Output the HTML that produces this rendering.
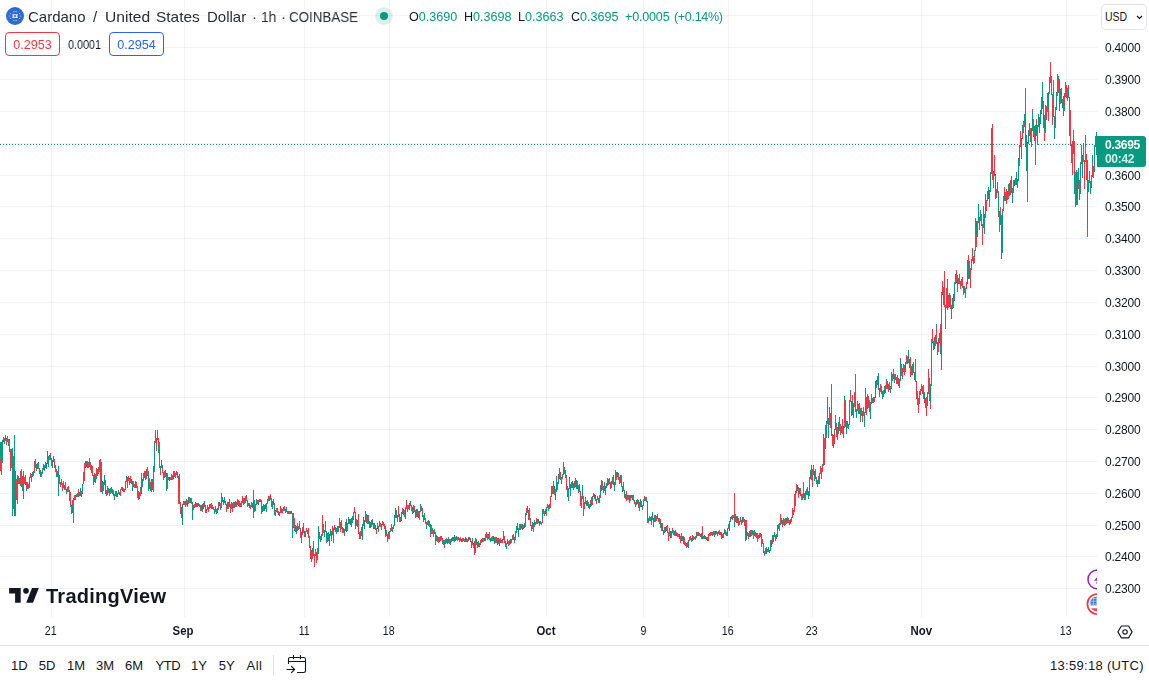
<!DOCTYPE html>
<html><head><meta charset="utf-8">
<style>
*{margin:0;padding:0;box-sizing:border-box}
html,body{width:1149px;height:684px;overflow:hidden;background:#fff;font-family:"Liberation Sans",sans-serif;color:#131722}
#chart{position:absolute;left:0;top:0}
.tw,.ohlc,.box,.pl,.tl,#cur,.ga{will-change:transform}
.abs{position:absolute;white-space:nowrap}
.tw{position:absolute;white-space:nowrap;top:8px;font-size:15px;color:#2a2e39;line-height:18px;transform-origin:0 0}
.ohlc{position:absolute;white-space:nowrap;top:9px;font-size:12.6px;line-height:16px;color:#089981}
.ohlc b{font-weight:normal;color:#131722}
.box{position:absolute;top:32px;height:24px;border:1px solid;border-radius:4px;background:#fff;font-size:12.6px;line-height:24px;text-align:center}
#pax{position:absolute;left:1097px;top:0;width:52px;height:617px;background:#fff}
.pl{position:absolute;left:8px;font-size:12px;line-height:15px;color:#131722;letter-spacing:-0.22px}
#usd{position:absolute;left:1101px;top:4px;width:46px;height:26px;border:1px solid #e0e3eb;border-radius:5px;font-size:12.5px;line-height:24px;padding-left:3px}
#usd span{display:inline-block;transform:scaleX(0.84);transform-origin:0 0}
#cur{position:absolute;left:1097px;top:136px;width:49px;height:31px;background:#089981;border-radius:0 3px 3px 0;color:#fff;font-size:12px;line-height:14px;padding:2px 0 0 8px;letter-spacing:-0.3px}
.tl{position:absolute;top:623px;width:60px;text-align:center;font-size:12px;line-height:16px;color:#131722}
.tl.b{font-weight:bold}
.tl span{display:inline-block;transform:scaleX(0.88)}
.tl.b span{transform:scaleX(0.95)}
#bline{position:absolute;left:0;top:645px;width:1149px;height:1px;background:#e0e3eb}
.tb{position:absolute;top:657.5px;font-size:13px;line-height:16px;color:#131722}
</style></head><body>
<svg id="chart" width="1097" height="617" viewBox="0 0 1097 617" shape-rendering="crispEdges">
<path d="M0 15.5H1097M0 47.5H1097M0 79.5H1097M0 111.5H1097M0 143.5H1097M0 175.5H1097M0 206.5H1097M0 238.5H1097M0 270.5H1097M0 302.5H1097M0 334.5H1097M0 366.5H1097M0 397.5H1097M0 429.5H1097M0 461.5H1097M0 493.5H1097M0 525.5H1097M0 556.5H1097M0 588.5H1097" stroke="rgba(42,46,57,0.06)" stroke-width="1" fill="none"/><path d="M51.5 0V617M184.5 0V617M304.5 0V617M389.5 0V617M546.5 0V617M643.5 0V617M728.5 0V617M812.5 0V617M921.5 0V617M1066.5 0V617" stroke="rgba(42,46,57,0.06)" stroke-width="1" fill="none"/>
<path d="M0 144.5H1097" stroke="#089981" stroke-width="1" stroke-dasharray="1 2" fill="none"/>
<path d="M0.5 442V459M1.5 442V448M2.5 440V463M3.5 441V442M4.5 440V444M5.5 437V441M6.5 438V440M8.5 441V446M9.5 439V441M9.5 441V452M12.5 448V516M14.5 435V516M15.5 471V516M17.5 475V504M18.5 476V481M19.5 478V479M22.5 484V491M23.5 471V499M25.5 475V481M25.5 481V485M26.5 490V491M27.5 482V489M28.5 487V489M29.5 477V485M29.5 485V488M30.5 473V474M31.5 476V482M32.5 472V477M33.5 471V476M34.5 461V462M36.5 464V471M37.5 463V466M38.5 462V467M39.5 468V471M40.5 470V473M40.5 473V477M41.5 474V477M42.5 468V473M42.5 473V474M43.5 464V469M44.5 465V470M45.5 462V468M46.5 463V466M46.5 466V469M47.5 451V464M48.5 456V467M49.5 455V456M50.5 456V460M52.5 460V468M53.5 456V462M56.5 474V477M58.5 466V496M62.5 489V491M64.5 489V490M66.5 489V492M66.5 492V494M69.5 490V492M70.5 505V507M71.5 505V514M72.5 505V513M73.5 517V523M75.5 495V500M76.5 494V497M79.5 492V496M80.5 488V490M80.5 490V496M81.5 494V497M82.5 484V491M83.5 472V484M85.5 461V467M86.5 461V466M87.5 461V468M89.5 461V467M90.5 462V463M94.5 478V482M95.5 474V483M96.5 475V479M97.5 469V476M98.5 467V470M100.5 459V460M101.5 468V492M102.5 481V494M103.5 482V487M104.5 475V485M105.5 480V494M106.5 493V496M107.5 486V495M108.5 488V491M109.5 491V496M110.5 488V493M112.5 490V494M114.5 494V498M115.5 492V496M116.5 491V497M118.5 490V494M125.5 481V489M125.5 489V490M126.5 476V479M127.5 477V488M129.5 478V479M131.5 479V484M132.5 481V491M135.5 481V488M136.5 487V488M139.5 492V499M140.5 487V491M141.5 473V494M142.5 479V485M143.5 473V475M144.5 475V478M145.5 471V480M148.5 471V491M149.5 478V479M150.5 484V491M151.5 479V492M152.5 479V481M153.5 466V467M153.5 467V492M154.5 441V472M155.5 442V443M157.5 438V440M158.5 446V453M160.5 466V471M161.5 460V468M162.5 465V468M166.5 473V491M168.5 477V480M169.5 477V481M172.5 475V477M173.5 471V472M175.5 475V478M178.5 476V477M179.5 474V493M180.5 513V514M181.5 509V518M182.5 504V525M183.5 501V505M185.5 501V504M186.5 499V504M187.5 505V507M188.5 497V499M189.5 497V503M190.5 498V503M192.5 502V520M193.5 508V510M195.5 502V506M197.5 503V507M198.5 503V506M200.5 509V511M201.5 505V509M202.5 504V509M203.5 503V509M204.5 501V504M205.5 505V513M207.5 505V509M209.5 504V509M211.5 503V505M213.5 507V510M214.5 509V514M215.5 506V511M216.5 509V510M216.5 510V514M217.5 508V511M218.5 502V504M219.5 502V506M220.5 505V510M221.5 493V494M222.5 497V498M222.5 498V502M223.5 504V505M224.5 497V503M226.5 504V506M227.5 502V505M228.5 505V509M229.5 499V505M229.5 505V507M233.5 502V508M234.5 502V508M235.5 506V507M237.5 499V505M238.5 505V506M239.5 501V507M241.5 501V507M243.5 504V505M244.5 502V504M245.5 496V501M246.5 500V501M247.5 506V507M248.5 503V506M249.5 506V508M251.5 502V507M252.5 504V508M253.5 505V518M254.5 500V512M255.5 504V505M256.5 499V505M257.5 500V504M258.5 503V505M261.5 500V510M262.5 506V512M264.5 505V511M265.5 504V509M266.5 503V512M268.5 499V501M269.5 500V501M270.5 497V500M271.5 503V507M272.5 501V509M273.5 499V505M274.5 505V515M275.5 510V516M279.5 512V516M281.5 508V513M284.5 509V511M285.5 509V513M286.5 508V512M287.5 511V514M289.5 511V514M290.5 511V514M291.5 511V514M292.5 516V538M293.5 527V528M294.5 529V531M295.5 525V530M296.5 526V527M296.5 527V534M299.5 521V529M300.5 528V530M301.5 532V543M303.5 523V532M304.5 531V535M305.5 536V537M309.5 540V548M311.5 553V562M312.5 548V552M313.5 541V556M317.5 548V560M318.5 526V554M319.5 532V534M319.5 534V539M320.5 536V542M321.5 534V538M324.5 530V533M324.5 533V537M325.5 522V532M326.5 531V542M327.5 533V534M327.5 534V542M328.5 532V541M329.5 537V546M330.5 529V536M331.5 531V538M332.5 533V535M333.5 533V543M335.5 529V532M336.5 528V534M338.5 526V532M339.5 518V528M341.5 524V529M342.5 527V528M343.5 528V532M344.5 529V534M346.5 522V532M347.5 523V531M348.5 517V524M349.5 519V523M349.5 523V524M350.5 519V525M351.5 525V527M352.5 516V523M353.5 518V520M354.5 507V508M355.5 512V529M356.5 522V526M361.5 527V536M362.5 524V535M362.5 535V540M363.5 525V526M364.5 520V525M364.5 525V529M365.5 511V522M366.5 514V518M367.5 519V524M368.5 518V524M369.5 521V528M370.5 522V528M372.5 521V525M374.5 523V529M377.5 523V529M378.5 526V532M379.5 521V527M385.5 526V532M386.5 530V534M387.5 534V536M388.5 532V534M389.5 531V532M392.5 527V528M392.5 528V532M394.5 515V526M395.5 508V518M396.5 510V512M396.5 512V518M397.5 515V522M399.5 514V515M399.5 515V522M400.5 517V519M401.5 512V514M401.5 514V521M402.5 509V514M403.5 509V515M404.5 513V517M405.5 507V519M409.5 503V505M409.5 505V510M410.5 501V504M411.5 505V511M412.5 507V514M413.5 505V513M415.5 510V518M416.5 509V516M417.5 509V517M419.5 511V519M420.5 504V512M421.5 506V508M421.5 508V511M422.5 513V517M424.5 513V519M426.5 526V529M427.5 521V525M428.5 520V526M429.5 521V527M430.5 524V534M432.5 528V529M434.5 530V534M435.5 543V545M436.5 536V541M439.5 537V542M442.5 542V544M444.5 540V545M445.5 542V544M446.5 539V543M447.5 539V543M447.5 543V544M448.5 537V539M448.5 539V543M449.5 542V544M450.5 542V545M451.5 538V542M452.5 537V541M453.5 537V541M454.5 536V542M455.5 537V541M456.5 536V540M457.5 537V541M459.5 538V542M461.5 539V542M463.5 538V541M464.5 539V542M465.5 537V539M465.5 539V542M467.5 539V542M468.5 537V541M469.5 537V540M471.5 541V548M472.5 538V541M473.5 547V548M474.5 541V542M475.5 543V553M476.5 540V545M477.5 542V544M478.5 541V543M479.5 543V547M481.5 539V543M484.5 538V541M485.5 534V541M486.5 537V538M488.5 538V539M490.5 538V542M492.5 537V541M493.5 536V538M493.5 538V541M494.5 537V540M494.5 540V544M497.5 538V545M498.5 539V544M499.5 539V546M501.5 540V543M503.5 531V540M505.5 541V547M506.5 544V549M507.5 539V541M508.5 545V546M510.5 539V541M511.5 539V543M513.5 534V540M514.5 537V542M515.5 531V538M516.5 526V532M516.5 532V533M517.5 526V530M518.5 528V535M518.5 535V537M520.5 524V530M522.5 524V525M523.5 525V529M524.5 524V528M525.5 513V516M526.5 512V515M527.5 506V510M529.5 508V520M530.5 518V519M531.5 525V528M532.5 522V526M534.5 520V527M535.5 522V525M537.5 519V524M538.5 519V523M539.5 521V526M540.5 521V524M542.5 509V520M543.5 509V510M544.5 514V516M545.5 509V514M546.5 507V513M548.5 508V511M549.5 504V506M551.5 489V497M554.5 486V493M555.5 489V500M556.5 480V492M558.5 474V484M559.5 475V479M560.5 477V480M561.5 477V479M562.5 474V477M563.5 462V468M564.5 470V474M565.5 477V478M566.5 475V477M568.5 488V501M569.5 477V486M570.5 484V492M570.5 492V496M571.5 485V488M572.5 481V487M573.5 483V490M574.5 485V488M575.5 478V479M575.5 479V487M576.5 480V489M577.5 487V489M578.5 485V491M579.5 485V492M580.5 491V492M582.5 485V497M585.5 502V504M586.5 501V505M588.5 502V506M588.5 506V508M589.5 506V509M590.5 504V507M592.5 496V502M593.5 493V497M594.5 498V499M595.5 500V501M597.5 496V500M598.5 498V499M598.5 499V503M599.5 495V503M600.5 485V496M601.5 480V483M602.5 489V490M603.5 492V493M604.5 482V491M605.5 486V495M606.5 483V488M607.5 480V486M608.5 479V484M611.5 481V485M611.5 485V488M612.5 477V481M613.5 478V485M614.5 482V491M615.5 470V485M616.5 472V475M617.5 473V477M620.5 475V479M622.5 486V489M622.5 489V492M624.5 490V498M628.5 495V498M629.5 495V503M630.5 500V501M631.5 495V498M632.5 495V500M633.5 495V496M636.5 500V503M636.5 503V505M637.5 499V504M638.5 500V501M639.5 502V506M640.5 499V507M642.5 505V507M642.5 507V510M643.5 503V506M644.5 499V501M646.5 498V502M647.5 501V523M648.5 518V522M650.5 517V521M651.5 516V524M651.5 524V525M652.5 512V520M653.5 518V526M654.5 517V522M655.5 515V522M656.5 516V517M657.5 518V519M659.5 521V524M660.5 522V528M661.5 523V531M662.5 530V531M663.5 531V535M664.5 527V528M664.5 528V533M665.5 527V529M665.5 529V532M667.5 530V533M669.5 535V536M670.5 531V536M671.5 531V538M672.5 529V533M674.5 531V534M674.5 534V536M679.5 534V536M679.5 536V539M682.5 536V537M682.5 537V541M683.5 543V544M687.5 542V547M688.5 542V548M691.5 538V542M692.5 537V541M693.5 536V540M696.5 536V538M697.5 532V536M698.5 532V536M701.5 533V537M702.5 535V539M704.5 535V539M711.5 532V535M714.5 531V537M715.5 531V535M716.5 531V534M717.5 532V536M721.5 532V538M721.5 538V539M723.5 533V538M724.5 529V533M725.5 530V532M725.5 532V535M726.5 532V536M727.5 531V536M728.5 524V528M729.5 521V531M730.5 517V522M731.5 516V519M732.5 515V518M733.5 515V518M734.5 520V527M735.5 514V522M736.5 516V520M737.5 517V523M739.5 521V525M740.5 517V520M741.5 520V522M742.5 517V523M743.5 521V522M745.5 520V541M746.5 529V540M749.5 534V537M750.5 533V537M751.5 535V536M752.5 530V533M754.5 530V536M757.5 534V542M759.5 534V538M764.5 554V556M765.5 552V554M766.5 547V554M767.5 549V552M768.5 547V550M768.5 550V552M770.5 540V551M771.5 540V547M772.5 535V540M773.5 535V542M774.5 532V537M775.5 535V539M775.5 539V541M776.5 534V537M778.5 524V529M782.5 520V526M783.5 518V521M786.5 518V522M787.5 517V523M788.5 518V520M791.5 517V520M793.5 510V515M795.5 491V494M797.5 485V486M798.5 487V491M799.5 490V494M801.5 494V500M802.5 498V500M803.5 495V498M804.5 493V498M804.5 498V500M806.5 489V492M806.5 492V495M807.5 487V492M808.5 491V494M808.5 494V499M809.5 477V490M810.5 470V477M811.5 465V479M812.5 486V487M813.5 465V475M814.5 471V477M814.5 477V481M815.5 470V479M816.5 477V484M817.5 483V487M818.5 479V484M819.5 473V477M819.5 477V484M822.5 464V466M823.5 434V436M823.5 436V466M825.5 425V430M826.5 421V435M827.5 407V424M828.5 418V438M829.5 407V412M831.5 427V436M833.5 435V448M834.5 429V433M835.5 415V430M836.5 423V426M837.5 427V434M838.5 422V434M839.5 417V422M841.5 426V430M842.5 419V420M843.5 426V438M844.5 396V401M846.5 421V425M846.5 425V434M847.5 421V428M848.5 424V429M850.5 390V394M851.5 401V416M852.5 400V415M853.5 406V418M856.5 409V418M857.5 401V402M858.5 410V414M859.5 410V414M860.5 410V422M861.5 413V416M863.5 407V416M864.5 412V427M865.5 388V413M867.5 394V398M870.5 402V419M871.5 394V400M871.5 400V404M872.5 398V401M873.5 397V401M875.5 381V386M875.5 386V398M876.5 380V388M877.5 382V385M878.5 374V390M879.5 388V393M881.5 386V389M882.5 391V399M883.5 393V397M884.5 386V387M884.5 387V394M885.5 385V388M885.5 388V393M886.5 379V381M887.5 384V389M890.5 386V393M891.5 372V375M892.5 374V381M893.5 369V379M894.5 377V383M895.5 378V380M897.5 375V384M899.5 379V388M900.5 359V381M901.5 373V376M902.5 377V379M904.5 365V368M905.5 362V370M906.5 361V364M907.5 363V364M908.5 350V363M912.5 364V372M913.5 367V373M914.5 372V380M915.5 381V382M919.5 391V398M924.5 392V399M925.5 398V400M927.5 392V406M930.5 384V403M931.5 339V361M932.5 341V343M933.5 341V350M934.5 340V349M935.5 335V341M936.5 324V327M937.5 342V348M937.5 348V355M938.5 338V342M940.5 345V354M941.5 292V370M947.5 279V310M948.5 307V308M949.5 293V307M950.5 295V297M951.5 305V319M952.5 299V309M953.5 294V298M954.5 282V287M954.5 287V301M955.5 274V284M956.5 282V283M957.5 275V287M958.5 278V279M962.5 286V288M964.5 288V293M967.5 260V284M968.5 264V279M969.5 261V279M974.5 250V257M976.5 221V235M977.5 221V233M977.5 233V237M978.5 204V222M979.5 217V226M980.5 210V221M982.5 224V226M984.5 214V221M984.5 221V234M985.5 194V214M987.5 191V201M988.5 187V199M989.5 190V197M990.5 172V192M991.5 128V139M993.5 186V188M995.5 174V199M996.5 189V190M997.5 186V193M998.5 191V213M1000.5 209V225M1001.5 215V259M1002.5 213V253M1004.5 195V201M1005.5 192V201M1007.5 191V200M1008.5 184V192M1009.5 183V188M1009.5 188V196M1011.5 176V193M1012.5 188V190M1012.5 190V203M1013.5 180V193M1014.5 180V186M1016.5 172V185M1017.5 179V181M1018.5 158V176M1018.5 176V181M1019.5 145V161M1021.5 138V159M1022.5 125V132M1023.5 132V133M1024.5 114V125M1025.5 117V147M1026.5 135V171M1027.5 142V180M1028.5 130V144M1029.5 123V126M1029.5 126V136M1030.5 138V142M1031.5 128V132M1032.5 112V131M1034.5 126V134M1035.5 125V131M1035.5 131V165M1036.5 124V136M1037.5 125V140M1038.5 114V127M1039.5 117V133M1040.5 110V124M1041.5 97V114M1042.5 82V109M1044.5 115V131M1048.5 92V109M1051.5 80V95M1052.5 94V98M1053.5 114V117M1054.5 116V136M1054.5 136V139M1056.5 92V110M1057.5 74V77M1058.5 76V79M1059.5 98V111M1060.5 89V104M1061.5 88V90M1062.5 100V108M1063.5 96V116M1064.5 105V111M1065.5 82V90M1068.5 90V98M1069.5 98V136M1070.5 145V146M1071.5 144V150M1073.5 138V154M1074.5 173V194M1076.5 170V179M1076.5 179V205M1077.5 177V205M1078.5 168V184M1079.5 193V200M1080.5 162V194M1081.5 158V164M1082.5 155V176M1083.5 143V148M1087.5 160V225M1088.5 180V192M1089.5 171V176M1090.5 181V194M1092.5 155V163M1094.5 145V172M1096.5 132V134M1096.5 134V155" stroke="#089981" stroke-width="1" fill="none"/><path d="M0.5 459V471M1.5 448V475M3.5 437V441M4.5 438V440M5.5 435V437M6.5 440V445M7.5 436V442M8.5 439V441M10.5 449V471M11.5 449V468M13.5 456V509M16.5 479V497M16.5 497V500M18.5 481V484M19.5 479V484M20.5 471V486M21.5 469V472M21.5 472V487M22.5 476V484M24.5 477V484M26.5 482V490M28.5 484V487M30.5 474V478M31.5 474V476M34.5 462V473M35.5 459V468M37.5 466V469M38.5 467V469M39.5 471V474M41.5 472V474M43.5 469V470M44.5 470V471M49.5 456V460M50.5 453V456M51.5 458V466M54.5 459V468M55.5 465V472M56.5 469V474M57.5 471V477M59.5 475V484M60.5 482V485M60.5 485V487M61.5 479V485M62.5 483V489M63.5 481V488M64.5 485V489M65.5 482V484M65.5 484V490M67.5 487V492M68.5 486V492M69.5 492V501M70.5 492V505M72.5 500V505M73.5 498V517M74.5 495V500M77.5 493V497M78.5 489V491M78.5 491V497M81.5 491V494M82.5 491V494M84.5 463V481M85.5 467V468M86.5 466V467M88.5 462V468M89.5 458V461M90.5 463V470M91.5 465V473M92.5 466V470M92.5 470V476M93.5 475V485M94.5 473V478M96.5 468V475M98.5 470V474M99.5 460V472M100.5 460V492M101.5 462V468M103.5 487V491M106.5 490V493M108.5 491V493M109.5 489V491M110.5 493V494M111.5 487V489M111.5 489V493M112.5 489V490M113.5 490V496M114.5 498V500M115.5 491V492M117.5 493V497M119.5 492V495M120.5 489V496M121.5 487V490M122.5 487V491M123.5 488V492M124.5 489V492M126.5 479V482M128.5 476V481M129.5 479V485M130.5 476V479M130.5 479V483M133.5 481V487M134.5 484V488M136.5 482V487M137.5 486V498M138.5 491V500M140.5 491V496M142.5 485V487M143.5 475V481M144.5 471V475M146.5 469V473M146.5 473V479M147.5 467V476M149.5 479V489M150.5 482V484M152.5 481V490M155.5 430V442M156.5 438V451M157.5 430V438M158.5 438V446M159.5 442V444M159.5 444V468M160.5 471V475M162.5 468V473M163.5 472V480M164.5 471V478M165.5 470V477M167.5 473V483M167.5 483V489M170.5 477V480M171.5 474V480M172.5 477V480M173.5 472V479M174.5 471V477M175.5 473V475M176.5 471V475M177.5 472V478M178.5 477V504M179.5 493V504M180.5 502V513M181.5 507V509M184.5 501V505M185.5 504V507M186.5 504V505M187.5 500V505M188.5 499V504M191.5 498V504M193.5 505V508M194.5 504V508M195.5 506V507M196.5 503V507M199.5 504V507M200.5 505V509M201.5 509V511M202.5 509V512M204.5 504V507M206.5 509V513M207.5 509V510M208.5 507V508M208.5 508V512M210.5 504V508M211.5 505V509M212.5 505V509M215.5 511V512M217.5 511V513M218.5 504V510M220.5 503V505M221.5 494V508M223.5 500V504M225.5 501V505M226.5 506V512M227.5 505V509M228.5 502V505M230.5 504V513M231.5 502V506M231.5 506V509M232.5 503V512M235.5 501V506M236.5 502V507M238.5 500V505M240.5 503V507M242.5 496V503M243.5 498V504M244.5 498V502M245.5 501V503M246.5 495V500M247.5 500V506M249.5 503V506M250.5 505V509M252.5 503V504M253.5 490V505M255.5 505V511M258.5 500V503M259.5 499V502M260.5 499V502M261.5 510V514M263.5 504V511M267.5 499V504M268.5 496V499M269.5 496V500M270.5 494V497M271.5 498V503M274.5 503V505M276.5 508V512M277.5 508V512M277.5 512V513M278.5 511V515M280.5 506V513M282.5 509V513M283.5 507V511M284.5 506V509M286.5 507V508M288.5 511V514M292.5 513V516M293.5 513V527M294.5 518V529M295.5 530V532M297.5 523V531M298.5 526V530M300.5 530V538M302.5 527V535M303.5 532V533M304.5 535V537M305.5 531V536M306.5 528V532M307.5 530V534M308.5 528V538M309.5 536V540M310.5 546V559M311.5 550V553M312.5 552V559M314.5 554V562M314.5 562V567M315.5 549V554M315.5 554V556M316.5 552V563M321.5 538V540M322.5 515V536M323.5 524V533M325.5 521V522M326.5 542V543M329.5 534V537M331.5 538V541M332.5 526V533M333.5 528V533M334.5 525V530M335.5 527V529M337.5 526V532M340.5 522V532M341.5 520V524M342.5 528V533M343.5 532V533M344.5 534V536M345.5 522V531M346.5 519V522M351.5 518V525M353.5 512V518M354.5 508V513M356.5 519V522M357.5 520V523M357.5 523V527M358.5 514V534M359.5 532V539M360.5 531V538M360.5 538V539M363.5 517V525M366.5 518V523M367.5 515V519M368.5 515V518M371.5 520V527M372.5 519V521M373.5 523V529M375.5 525V530M376.5 528V534M380.5 523V527M381.5 524V526M381.5 526V530M382.5 521V525M383.5 522V526M384.5 524V529M385.5 532V537M386.5 534V536M387.5 536V542M388.5 534V539M389.5 532V539M390.5 528V532M391.5 524V531M393.5 525V529M398.5 506V511M398.5 511V517M400.5 519V522M402.5 508V509M404.5 510V513M406.5 500V509M407.5 505V512M408.5 505V509M410.5 504V506M414.5 506V510M414.5 510V512M416.5 516V517M418.5 511V518M419.5 519V520M422.5 508V513M423.5 515V520M423.5 520V522M424.5 519V520M425.5 518V524M426.5 522V526M430.5 534V537M431.5 525V534M432.5 529V534M433.5 530V537M434.5 529V530M435.5 532V543M436.5 535V536M437.5 536V542M438.5 537V541M438.5 541V543M440.5 536V541M441.5 536V540M442.5 538V542M443.5 540V545M444.5 545V548M445.5 539V542M446.5 538V539M449.5 539V542M450.5 539V542M454.5 535V536M458.5 537V540M460.5 537V541M462.5 538V542M466.5 538V542M470.5 538V542M472.5 541V545M473.5 543V547M474.5 542V555M475.5 538V543M476.5 539V540M477.5 544V548M478.5 543V547M480.5 540V544M480.5 544V545M482.5 538V542M483.5 538V542M486.5 532V537M487.5 534V540M488.5 534V538M489.5 532V540M491.5 537V541M492.5 536V537M495.5 537V543M496.5 537V543M498.5 538V539M500.5 538V543M502.5 539V543M504.5 536V543M506.5 543V544M507.5 541V544M508.5 541V545M509.5 540V544M509.5 544V545M510.5 541V544M512.5 535V540M514.5 542V543M515.5 538V540M517.5 523V526M519.5 524V528M519.5 528V530M521.5 524V529M522.5 525V530M524.5 523V524M525.5 516V527M526.5 508V512M527.5 510V513M528.5 510V515M528.5 515V520M530.5 519V526M531.5 528V531M532.5 526V529M533.5 523V525M533.5 525V532M536.5 518V524M541.5 522V525M542.5 520V523M543.5 510V514M544.5 511V514M546.5 513V516M547.5 504V508M548.5 505V508M549.5 506V509M550.5 496V508M551.5 486V489M552.5 486V493M552.5 493V494M553.5 481V494M554.5 493V495M556.5 476V480M557.5 482V490M559.5 468V475M560.5 472V477M561.5 479V484M562.5 477V479M563.5 468V475M564.5 467V470M565.5 470V477M566.5 477V490M567.5 486V497M569.5 486V489M571.5 482V485M572.5 487V488M574.5 481V485M577.5 481V487M578.5 491V493M579.5 484V485M580.5 492V506M581.5 496V508M582.5 497V499M583.5 496V516M584.5 502V506M584.5 506V509M585.5 497V502M586.5 505V506M587.5 500V506M589.5 504V506M590.5 500V504M591.5 497V502M591.5 502V506M592.5 502V505M594.5 494V498M595.5 495V500M596.5 499V504M600.5 496V498M601.5 483V491M602.5 481V489M603.5 486V492M607.5 478V480M608.5 484V485M609.5 478V483M609.5 483V484M610.5 482V483M610.5 483V489M612.5 481V484M613.5 475V478M616.5 475V480M617.5 472V473M618.5 473V475M618.5 475V480M619.5 477V484M620.5 479V483M621.5 475V487M623.5 482V491M625.5 494V496M625.5 496V499M626.5 491V501M627.5 495V500M628.5 498V500M630.5 495V500M633.5 496V501M634.5 500V504M635.5 502V507M638.5 501V508M639.5 506V511M641.5 501V505M641.5 505V507M643.5 499V503M644.5 496V499M645.5 497V501M646.5 497V498M648.5 522V523M649.5 516V521M653.5 526V527M654.5 515V517M656.5 517V521M657.5 514V518M658.5 518V522M659.5 518V521M660.5 519V522M662.5 523V530M663.5 530V531M666.5 526V531M667.5 525V530M668.5 532V541M669.5 528V535M670.5 536V538M672.5 528V529M673.5 530V535M675.5 530V536M676.5 532V536M677.5 533V537M678.5 534V537M680.5 536V543M681.5 533V541M683.5 536V543M684.5 537V545M685.5 542V546M686.5 543V548M688.5 540V542M689.5 537V541M690.5 536V540M692.5 535V537M694.5 537V539M695.5 536V540M696.5 532V536M699.5 533V536M700.5 534V537M701.5 537V539M702.5 526V535M703.5 536V539M705.5 536V539M706.5 537V540M707.5 537V541M708.5 534V540M708.5 540V541M709.5 533V536M710.5 532V536M712.5 532V536M713.5 531V535M718.5 531V534M719.5 530V533M719.5 533V535M720.5 532V535M722.5 534V538M724.5 533V534M727.5 528V531M728.5 528V529M732.5 518V520M734.5 493V520M736.5 520V523M737.5 516V517M738.5 518V526M740.5 520V522M741.5 522V525M743.5 517V521M744.5 519V526M746.5 520V529M747.5 532V536M748.5 533V534M748.5 534V539M749.5 531V534M750.5 530V533M751.5 530V535M752.5 533V535M753.5 531V536M753.5 536V539M755.5 532V537M756.5 533V538M757.5 533V534M758.5 535V539M759.5 533V534M760.5 533V537M761.5 534V547M762.5 539V543M762.5 543V544M763.5 543V553M764.5 551V554M765.5 548V552M769.5 550V553M772.5 540V544M776.5 537V539M777.5 525V537M779.5 523V530M779.5 530V531M780.5 514V525M781.5 518V524M782.5 526V527M783.5 521V525M784.5 519V526M785.5 518V525M786.5 522V524M788.5 520V523M789.5 520V525M790.5 519V524M791.5 520V522M792.5 508V518M794.5 494V512M795.5 494V506M796.5 484V493M797.5 486V491M798.5 491V498M799.5 488V490M800.5 488V494M800.5 494V496M802.5 494V498M803.5 482V495M805.5 491V500M807.5 492V495M809.5 490V496M810.5 477V479M811.5 479V480M812.5 469V486M815.5 469V470M817.5 480V483M818.5 476V479M820.5 466V472M820.5 472V474M821.5 468V479M822.5 466V472M824.5 438V465M825.5 430V449M826.5 435V438M827.5 397V407M829.5 412V425M830.5 413V420M830.5 420V428M831.5 384V427M832.5 434V446M834.5 433V444M836.5 426V437M837.5 434V440M839.5 422V431M840.5 424V427M840.5 427V435M841.5 430V433M842.5 420V434M844.5 401V428M845.5 400V427M849.5 400V419M849.5 419V425M850.5 394V402M852.5 395V400M853.5 403V406M854.5 392V407M855.5 374V412M857.5 402V411M858.5 404V410M859.5 403V410M860.5 408V410M861.5 408V413M862.5 411V422M866.5 397V415M867.5 398V409M868.5 396V408M869.5 400V406M869.5 406V412M872.5 401V403M873.5 401V403M874.5 397V399M874.5 399V402M877.5 376V382M878.5 373V374M879.5 393V397M880.5 384V391M880.5 391V392M881.5 389V394M883.5 390V393M886.5 381V389M887.5 381V384M888.5 384V392M889.5 382V390M891.5 375V389M894.5 374V377M895.5 374V378M896.5 377V384M898.5 378V386M900.5 358V359M901.5 364V373M902.5 368V377M903.5 364V372M904.5 368V375M905.5 370V372M906.5 355V361M907.5 356V363M909.5 359V365M909.5 365V368M910.5 357V363M910.5 363V377M911.5 366V368M911.5 368V375M912.5 372V375M913.5 362V367M915.5 359V381M916.5 381V388M916.5 388V399M917.5 391V405M918.5 398V413M919.5 398V404M920.5 389V395M921.5 384V391M922.5 386V394M923.5 385V399M924.5 399V403M925.5 400V408M926.5 397V416M928.5 369V394M929.5 378V401M930.5 403V409M931.5 361V386M932.5 329V341M934.5 337V340M935.5 341V346M936.5 327V344M938.5 342V352M939.5 333V343M940.5 324V345M942.5 281V295M943.5 287V305M944.5 271V307M945.5 305V329M946.5 288V306M946.5 306V308M948.5 295V307M950.5 297V309M952.5 298V299M953.5 298V308M956.5 270V282M957.5 287V292M958.5 279V284M959.5 274V277M959.5 277V284M960.5 281V289M961.5 279V284M961.5 284V286M962.5 277V286M963.5 286V295M964.5 286V288M965.5 288V298M966.5 282V289M968.5 255V264M970.5 268V288M971.5 259V262M971.5 262V270M972.5 248V253M972.5 253V261M973.5 256V257M973.5 257V264M974.5 257V263M975.5 218V251M976.5 235V247M978.5 222V223M979.5 226V230M981.5 214V226M982.5 226V245M983.5 206V228M985.5 214V218M986.5 200V210M986.5 210V211M989.5 197V207M991.5 139V174M992.5 124V180M993.5 171V186M994.5 155V176M996.5 190V198M997.5 182V186M998.5 213V217M999.5 211V221M999.5 221V232M1000.5 207V209M1002.5 209V213M1003.5 196V211M1004.5 187V195M1006.5 189V204M1008.5 192V199M1010.5 180V195M1015.5 178V183M1015.5 183V185M1017.5 181V188M1019.5 161V166M1020.5 131V147M1022.5 132V139M1023.5 121V132M1024.5 125V127M1025.5 88V117M1027.5 180V202M1030.5 128V138M1031.5 132V147M1032.5 109V112M1033.5 119V135M1033.5 135V137M1034.5 134V141M1036.5 119V124M1037.5 140V145M1043.5 101V128M1044.5 131V141M1045.5 105V133M1046.5 106V120M1047.5 93V112M1048.5 109V121M1049.5 77V94M1050.5 62V82M1050.5 82V83M1051.5 76V80M1052.5 98V125M1053.5 80V114M1055.5 107V128M1057.5 77V96M1058.5 79V93M1059.5 79V98M1061.5 90V103M1062.5 99V100M1064.5 93V105M1065.5 90V97M1066.5 85V98M1067.5 88V101M1068.5 85V90M1069.5 97V98M1070.5 110V145M1071.5 150V163M1072.5 141V175M1073.5 130V138M1074.5 141V173M1075.5 172V207M1077.5 172V177M1078.5 184V189M1079.5 180V193M1081.5 145V158M1082.5 176V178M1083.5 148V162M1084.5 160V189M1085.5 135V162M1086.5 154V180M1087.5 225V237M1089.5 176V183M1091.5 175V188M1092.5 163V177M1093.5 166V173M1093.5 173V178M1095.5 136V147" stroke="#f23645" stroke-width="1" fill="none"/>
</svg>

<!-- legend -->
<svg class="abs" style="left:6px;top:7px" width="18" height="18" viewBox="0 0 18 18">
<circle cx="9" cy="9" r="9" fill="#2a6bd6"/>
<path d="M5.9 7.2 H12.1 L11.1 9 L12.1 10.9 H5.9 L6.9 9 Z" fill="#dfe8f8"/>
<rect x="8.1" y="8.2" width="1.8" height="1.6" fill="#2a6bd6"/>
<g fill="#c9d9f4">
<circle cx="7.6" cy="4.7" r="0.55"/><circle cx="9" cy="4.5" r="0.55"/><circle cx="10.4" cy="4.7" r="0.55"/>
<circle cx="7.6" cy="13.3" r="0.55"/><circle cx="9" cy="13.5" r="0.55"/><circle cx="10.4" cy="13.3" r="0.55"/>
<circle cx="3.5" cy="9" r="0.6"/><circle cx="14.5" cy="9" r="0.6"/>
<circle cx="4.4" cy="6.5" r="0.6"/><circle cx="13.6" cy="6.5" r="0.6"/><circle cx="4.4" cy="11.5" r="0.6"/><circle cx="13.6" cy="11.5" r="0.6"/>
</g></svg>
<div class="tw" style="left:27.7px">Cardano</div><div class="tw" style="left:92.5px">/</div><div class="tw" style="left:105.0px;transform:scaleX(1.04)">United</div><div class="tw" style="left:156.2px;transform:scaleX(1.03)">States</div><div class="tw" style="left:206.7px">Dollar</div><div class="tw" style="left:252.2px">·</div><div class="tw" style="left:261.2px;transform:scaleX(0.92)">1h</div><div class="tw" style="left:280.8px">·</div><div class="tw" style="left:289.4px;transform:scaleX(0.89)">COINBASE</div>
<svg class="abs" style="left:375px;top:7px" width="18" height="18" viewBox="0 0 18 18"><circle cx="9" cy="9" r="8.8" fill="#089981" fill-opacity="0.15"/><circle cx="9" cy="9" r="4" fill="#089981"/></svg>
<div class="ohlc" style="left:409px"><b>O</b>0.3690</div>
<div class="ohlc" style="left:463.5px"><b>H</b>0.3698</div>
<div class="ohlc" style="left:518px"><b>L</b>0.3663</div>
<div class="ohlc" style="left:570.5px"><b>C</b>0.3695</div>
<div class="ohlc" style="left:624.5px;letter-spacing:-0.2px">+0.0005</div>
<div class="ohlc" style="left:674px;letter-spacing:-0.35px">(+0.14%)</div>

<div class="box" style="left:5px;width:55px;border-color:#f23645;color:#f23645">0.2953</div>
<div class="abs ga" style="left:68px;top:37px;font-size:12px;line-height:16px;color:#131722;transform:scaleX(0.9);transform-origin:0 0">0.0001</div>
<div class="box" style="left:109px;width:55px;border-color:#2962ff;color:#2962ff">0.2954</div>

<!-- event icons (behind price axis) -->
<svg class="abs" style="left:1085px;top:567px" width="24" height="50" viewBox="0 0 24 50">
<defs><clipPath id="fc"><circle cx="12.4" cy="37" r="7.6"/></clipPath></defs>
<circle cx="12.4" cy="12.4" r="9.4" fill="#fff" stroke="#9c27b0" stroke-width="1.6"/>
<path d="M13.5 8.5 L9 13.8 H12 L10.8 17.5 L15.2 12 H12.3 Z" fill="#9c27b0"/>
<circle cx="12.4" cy="37" r="10" fill="#fff" stroke="#f23645" stroke-width="1.7"/>
<g clip-path="url(#fc)">
<rect x="0" y="28.8" width="24" height="9.5" fill="#2f7fe0"/>
<path d="M0 31.5H24M0 34.3H24M0 37H24M5.5 28V38M8.5 28V38M11.5 28V38M14.5 28V38" stroke="#a9c8f0" stroke-width="0.8"/>
<rect x="0" y="41.3" width="24" height="4" fill="#f0474f"/>
</g>
</svg>

<div id="pax">
<div class="pl" style="top:41px">0.4000</div><div class="pl" style="top:73px">0.3900</div><div class="pl" style="top:105px">0.3800</div><div class="pl" style="top:169px">0.3600</div><div class="pl" style="top:200px">0.3500</div><div class="pl" style="top:232px">0.3400</div><div class="pl" style="top:264px">0.3300</div><div class="pl" style="top:296px">0.3200</div><div class="pl" style="top:328px">0.3100</div><div class="pl" style="top:360px">0.3000</div><div class="pl" style="top:391px">0.2900</div><div class="pl" style="top:423px">0.2800</div><div class="pl" style="top:455px">0.2700</div><div class="pl" style="top:487px">0.2600</div><div class="pl" style="top:519px">0.2500</div><div class="pl" style="top:550px">0.2400</div><div class="pl" style="top:582px">0.2300</div>
</div>
<div id="usd"><span>USD</span><svg style="position:absolute;left:33.7px;top:9.5px" width="7" height="5" viewBox="0 0 7 5"><path d="M1 1 L3.5 3.4 L6 1" stroke="#131722" stroke-width="1.2" fill="none"/></svg></div>
<div id="cur"><b>0.3695</b><br><b style="opacity:0.82">00:42</b></div>

<!-- time axis -->
<div class="tl" style="left:20.5px"><span>21</span></div><div class="tl b" style="left:153.3px"><span>Sep</span></div><div class="tl" style="left:274.3px"><span>11</span></div><div class="tl" style="left:359.3px"><span>18</span></div><div class="tl b" style="left:516.4px"><span>Oct</span></div><div class="tl" style="left:613px"><span>9</span></div><div class="tl" style="left:697.5px"><span>16</span></div><div class="tl" style="left:781.8px"><span>23</span></div><div class="tl b" style="left:891px"><span>Nov</span></div><div class="tl" style="left:1035.8px"><span>13</span></div>
<svg class="abs" style="left:1117px;top:624px" width="16" height="16" viewBox="0 0 16 16"><path d="M4.4 2 H11.6 L15.1 7.9 L11.6 13.9 H4.4 L0.9 7.9 Z" fill="none" stroke="#131722" stroke-width="1.1" stroke-linejoin="round"/><circle cx="8.05" cy="7.9" r="2.2" fill="none" stroke="#131722" stroke-width="1.1"/></svg>

<!-- TradingView logo -->
<svg class="abs" style="left:9px;top:588px" width="32" height="15" viewBox="0 0 32 15">
<path d="M0.1 0 H11.7 V14.7 H6.1 V5.6 H0.1 Z" fill="#131722"/>
<circle cx="17" cy="2.8" r="2.85" fill="#131722"/>
<path d="M23 0 H29.8 L24 14.7 H17.2 Z" fill="#131722"/>
</svg>
<div class="abs ga" style="left:46px;top:584px;font-size:20px;font-weight:bold;line-height:24px;color:#131722;letter-spacing:0.25px">TradingView</div>

<div id="bline"></div>
<div class="tb" style="left:11px">1D</div>
<div class="tb" style="left:38.7px">5D</div>
<div class="tb" style="left:67px">1M</div>
<div class="tb" style="left:96px">3M</div>
<div class="tb" style="left:125px">6M</div>
<div class="tb" style="left:155.5px;letter-spacing:-0.4px">YTD</div>
<div class="tb" style="left:191px">1Y</div>
<div class="tb" style="left:218.7px">5Y</div>
<div class="tb" style="left:246.5px;letter-spacing:0.5px">All</div>
<div class="abs" style="left:273px;top:655px;width:1px;height:21px;background:#e0e3eb"></div>
<svg class="abs" style="left:286px;top:655px" width="21" height="19" viewBox="0 0 21 19">
<path d="M2.5 8.5 V4.2 Q2.5 2.5 4.2 2.5 H17.8 Q19.5 2.5 19.5 4.2 V15.8 Q19.5 17.5 17.8 17.5 H11.5" fill="none" stroke="#131722" stroke-width="1.1" stroke-linecap="round"/>
<path d="M2.5 6.5 H19.5 M7.5 0.3 V3.8 M14.5 0.3 V3.8" fill="none" stroke="#131722" stroke-width="1.1" stroke-linecap="round"/>
<path d="M1 14.5 H8.6 M5.5 11.3 L8.6 14.5 L5.5 17.6" fill="none" stroke="#131722" stroke-width="1.1" stroke-linecap="round" stroke-linejoin="round"/>
</svg>
<div class="tb" style="left:1050px;letter-spacing:0.3px">13:59:18 (UTC)</div>
</body></html>
